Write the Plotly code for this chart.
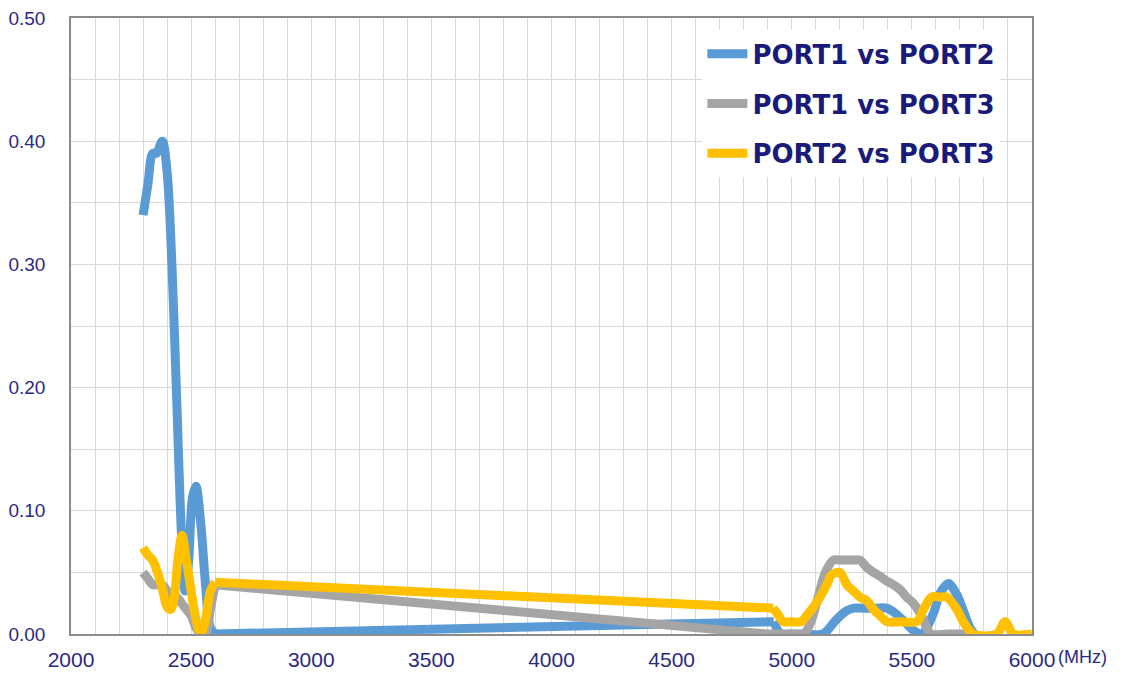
import plotly.graph_objects as go

# ---- data ----
freq_p12 = [2300, 2320, 2340, 2355, 2380, 2400, 2420, 2440, 2460, 2475, 2490, 2505, 2520, 2540, 2560, 2580, 2600,
            4925, 4955, 5000, 5060, 5130, 5187, 5229, 5260, 5300, 5350, 5395, 5423, 5464, 5506, 5541,
            5590, 5617, 5652, 5687, 5714, 5742, 5760]
val_p12 = [0.34, 0.365, 0.39, 0.39, 0.40, 0.375, 0.30, 0.19, 0.08, 0.035, 0.06, 0.11, 0.12, 0.09, 0.04, 0.005, 0.0,
           0.01, 0.0, 0.0, 0.0, 0.0, 0.012, 0.019, 0.021, 0.021, 0.021, 0.021, 0.018, 0.011, 0.003, 0.0,
           0.017, 0.033, 0.041, 0.032, 0.019, 0.005, 0.0]

freq_p13 = [2300, 2320, 2340, 2360, 2380, 2400, 2420, 2440, 2460, 2480, 2500, 2520, 2540, 2560, 2580, 2600,
            4900, 4950, 5000, 5050, 5080, 5110, 5140, 5173, 5200, 5230, 5260, 5284, 5312, 5340, 5367, 5395,
            5423, 5451, 5478, 5506, 5534, 5562, 5580, 5650, 5742]
val_p13 = [0.05, 0.045, 0.04, 0.04, 0.04, 0.035, 0.03, 0.03, 0.025, 0.02, 0.015, 0.005, 0.0, 0.0, 0.02, 0.04,
           0.0, 0.0, 0.0, 0.0, 0.01, 0.03, 0.05, 0.06, 0.06, 0.06, 0.06, 0.06, 0.054, 0.05, 0.047, 0.043,
           0.04, 0.036, 0.03, 0.025, 0.017, 0.005, 0.0, 0.0, 0.0]

freq_p23 = [2300, 2320, 2340, 2360, 2380, 2400, 2415, 2430, 2445, 2462, 2480, 2500, 2520, 2540, 2560, 2580, 2600,
            4923, 4945, 4965, 5000, 5040, 5062, 5083, 5118, 5146, 5166, 5200, 5229, 5256, 5284, 5312, 5340,
            5367, 5395, 5450, 5520, 5548, 5583, 5617, 5645, 5687, 5714, 5756, 5853, 5888, 5922, 6000]
val_p23 = [0.07, 0.064, 0.06, 0.05, 0.037, 0.022, 0.02, 0.03, 0.06, 0.08, 0.06, 0.035, 0.012, 0.0, 0.012, 0.035, 0.042,
           0.021, 0.015, 0.01, 0.01, 0.01, 0.015, 0.02, 0.03, 0.04, 0.048, 0.05, 0.04, 0.035, 0.03, 0.027, 0.02,
           0.015, 0.01, 0.01, 0.01, 0.02, 0.03, 0.03, 0.03, 0.02, 0.01, 0.0, 0.0, 0.01, 0.0, 0.0]

series_names = ["PORT1 vs PORT2", "PORT1 vs PORT3", "PORT2 vs PORT3"]
series_colors = ["#5b9bd5", "#a5a5a5", "#ffc000"]

x_ticks = [2000, 2500, 3000, 3500, 4000, 4500, 5000, 5500, 6000]
y_ticks = [0.0, 0.1, 0.2, 0.3, 0.4, 0.5]

LABEL = "#2a2a86"
GRID = "#d9d9d9"
LW = 9

fig = go.Figure()
for i, (fx, fy) in enumerate([(freq_p12, val_p12), (freq_p13, val_p13), (freq_p23, val_p23)]):
    # split into the two measured bands (large frequency gap between them)
    k = next(j for j in range(1, len(fx)) if fx[j] - fx[j - 1] > 1000)
    pieces = [
        (fx[:k], fy[:k], "spline"),
        (fx[k - 1:k + 1], fy[k - 1:k + 1], "linear"),
        (fx[k:], fy[k:], "spline"),
    ]
    for n, (px, py, shp) in enumerate(pieces):
        line = dict(color=series_colors[i], width=LW, shape=shp)
        if shp == "spline":
            line["smoothing"] = 0.9
        fig.add_trace(go.Scatter(
            x=px, y=py, mode="lines", name=series_names[i],
            legendgroup=f"g{i}", showlegend=(n == 0),
            line=line,
        ))

# the page body adds an 8px offset, so the figure is 8px smaller and margins shifted
fig.update_layout(
    width=1120, height=667,
    margin=dict(l=63, r=96, t=10, b=41, autoexpand=False),
    paper_bgcolor="white", plot_bgcolor="white",
    font=dict(family="Liberation Sans, Arial, sans-serif", color=LABEL),
    showlegend=True,
    legend=dict(
        x=0.657, y=0.980, xanchor="left", yanchor="top",
        bgcolor="white", borderwidth=0,
        font=dict(size=26, color="#1a1a7a", family="DejaVu Sans, Liberation Sans, sans-serif", weight="bold"),
        tracegroupgap=13, itemwidth=40, traceorder="grouped",
    ),
)
fig.update_xaxes(
    range=[2000, 6000], tickvals=x_ticks, ticktext=[str(v) for v in x_ticks],
    showgrid=True, gridcolor=GRID, gridwidth=1,
    minor=dict(dtick=100, showgrid=True, gridcolor=GRID, gridwidth=1),
    showline=True, linecolor="#8c8c8c", linewidth=1.5, mirror=True,
    ticks="", tickfont=dict(size=21, color=LABEL), ticklabelstandoff=6,
    ticklabeloverflow="allow",
    zeroline=False, automargin=False,
)
fig.update_yaxes(
    range=[0, 0.5], tickvals=y_ticks, tickformat=".2f",
    showgrid=True, gridcolor=GRID, gridwidth=1,
    minor=dict(dtick=0.05, showgrid=True, gridcolor=GRID, gridwidth=1),
    showline=True, linecolor="#8c8c8c", linewidth=1.5, mirror=True,
    ticks="", tickfont=dict(size=19, color=LABEL), ticklabelstandoff=20,
    ticklabeloverflow="allow",
    zeroline=False, automargin=False,
)
fig.add_annotation(
    text="(MHz)", x=6000, xref="x", y=0, yref="paper",
    xanchor="left", yanchor="middle", xshift=24, yshift=-23,
    showarrow=False, font=dict(size=18, color=LABEL),
)

fig.write_html("out.html")
